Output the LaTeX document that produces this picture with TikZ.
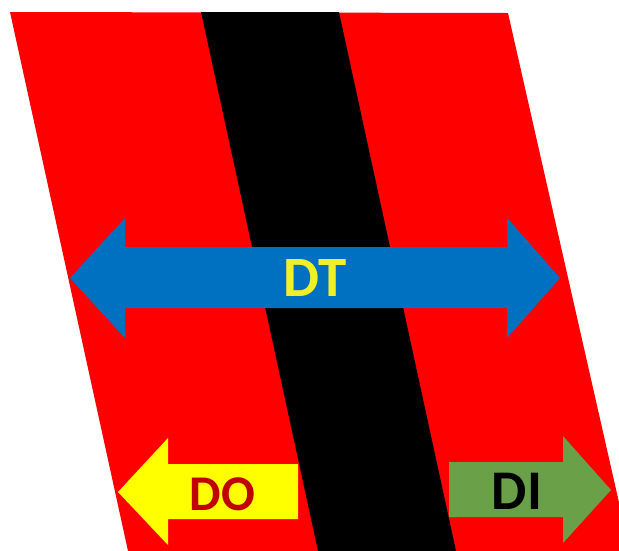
\documentclass[tikz,border=0pt]{standalone}
\usepackage{fontspec}
\setmainfont{Carlito}
\definecolor{bandred}{RGB}{255,0,0}
\definecolor{dtblue}{RGB}{0,112,192}
\definecolor{doyellow}{RGB}{255,255,0}
\definecolor{dttext}{RGB}{240,240,40}
\definecolor{dotext}{RGB}{192,0,0}
\definecolor{digreen}{RGB}{106,160,72}
\tikzset{
  lbl/.style={inner sep=0pt, anchor=center},
}
\begin{document}
\begin{tikzpicture}[x=1pt,y=-1pt]
\useasboundingbox (0,0) rectangle (619,550);
\clip (0,0) rectangle (619,550);
\fill[white] (0,0) rectangle (619,550);
% red parallelogram
\fill[bandred] (10,12) -- (508,13) -- (630,551) -- (128,551) -- cycle;
% black stripe
\fill[black] (201,12) -- (339,12) -- (456,551) -- (318,551) -- cycle;
% blue double arrow
\fill[dtblue] (70,278) -- (125,218) -- (125,247) -- (507,247) -- (507,218) -- (560,278)
  -- (507,338) -- (507,308) -- (125,308) -- (125,338) -- cycle;
% yellow DO arrow
\fill[doyellow] (118,492) -- (168,438) -- (168,464) -- (298,464) -- (298,519) -- (168,519) -- (168,545) -- cycle;
% green DI arrow
\fill[digreen] (449,462) -- (563,462) -- (563,436) -- (611,490) -- (563,543) -- (563,517) -- (449,517) -- cycle;
% labels
\node[lbl, text=dttext, font=\bfseries\fontsize{57}{57}\selectfont] (dt) at (315,278.5) {DT};
\node[lbl, text=dotext, font=\bfseries\fontsize{50}{50}\selectfont] (do) at (222.5,494) {DO};
\node[lbl, text=black, font=\bfseries\fontsize{56}{56}\selectfont] (di) at (517,491.5) {DI};
\end{tikzpicture}
\end{document}
